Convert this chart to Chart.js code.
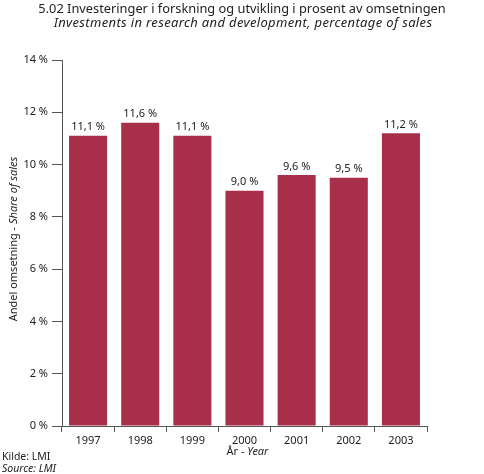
<!DOCTYPE html>
<html>
<head>
<meta charset="utf-8">
<script src="https://cdn.jsdelivr.net/npm/chart.js@4"></script>
<style>
  html, body { margin: 0; padding: 0; background: #fff; }
  #wrap { width: 484px; height: 474px; position: relative; }
</style>
</head>
<body>
<div id="wrap"><canvas id="rdChart" width="484" height="474"></canvas></div>
<script>
// data
const years = ["1997", "1998", "1999", "2000", "2001", "2002", "2003"];
const shareOfSales = [11.1, 11.6, 11.1, 9.0, 9.6, 9.5, 11.2];
const yTicks = [0, 2, 4, 6, 8, 10, 12, 14];

const FONT = "'Noto Sans', 'Open Sans', sans-serif";
const BAR_COLOR = "#a82f4a";
const TEXT = "#222";
const AXIS = "#555";

const fmt = (v) => v.toFixed(1).replace(".", ",") + " %";

// texts that mix upright and italic parts
function mixed(ctx, parts, x, y, align) {
  let total = 0;
  parts.forEach(p => { ctx.font = p.font; total += ctx.measureText(p.text).width; });
  let cx = align === "center" ? x - total / 2 : x;
  ctx.textAlign = "left";
  parts.forEach(p => {
    ctx.font = p.font;
    ctx.fillText(p.text, cx, y);
    cx += ctx.measureText(p.text).width;
  });
}

const textPlugin = {
  id: "texts",
  afterDraw(chart) {
    const ctx = chart.ctx;
    const area = chart.chartArea;
    ctx.save();
    ctx.fillStyle = TEXT;
    ctx.textBaseline = "middle";

    // heading
    ctx.textAlign = "center";
    ctx.font = "12.8px " + FONT;
    ctx.fillText("5.02 Investeringer i forskning og utvikling i prosent av omsetningen", 242, 9);
    ctx.font = "italic 13px " + FONT;
    ctx.letterSpacing = "0.35px";
    ctx.fillText("Investments in research and development, percentage of sales", 243, 23);
    ctx.letterSpacing = "0px";

    // x title
    mixed(ctx, [
      { text: "År - ", font: "11px " + FONT },
      { text: "Year", font: "italic 11px " + FONT }
    ], (area.left + area.right) / 2 + 3, 452, "center");

    // source
    ctx.textAlign = "left";
    ctx.font = "10.5px " + FONT;
    ctx.fillText("Kilde: LMI", 2, 457);
    ctx.font = "italic 10.5px " + FONT;
    ctx.fillText("Source: LMI", 2, 469);

    // y title, rotated
    ctx.save();
    ctx.translate(14, (area.top + area.bottom) / 2 - 4);
    ctx.rotate(-Math.PI / 2);
    mixed(ctx, [
      { text: "Andel omsetning - ", font: "11px " + FONT },
      { text: "Share of sales", font: "italic 11px " + FONT }
    ], 0, 0, "center");
    ctx.restore();

    ctx.restore();
  },
  afterDatasetsDraw(chart) {
    const ctx = chart.ctx;
    const meta = chart.getDatasetMeta(0);
    ctx.save();
    ctx.fillStyle = TEXT;
    ctx.font = "11px " + FONT;
    ctx.textAlign = "center";
    ctx.textBaseline = "bottom";
    meta.data.forEach((bar, i) => {
      ctx.fillText(fmt(shareOfSales[i]), bar.x, bar.y - 3);
    });
    ctx.restore();
  }
};

new Chart(document.getElementById("rdChart"), {
  type: "bar",
  data: {
    labels: years,
    datasets: [{
      data: shareOfSales,
      backgroundColor: BAR_COLOR,
      borderWidth: 0,
      barPercentage: 0.73,
      categoryPercentage: 1
    }]
  },
  options: {
    responsive: false,
    animation: false,
    layout: { padding: { left: 0, right: 57, top: 60, bottom: 0 } },
    plugins: {
      legend: { display: false },
      title: { display: false },
      tooltip: { enabled: false }
    },
    scales: {
      x: {
        offset: true,
        grid: {
          offset: true,
          drawOnChartArea: false,
          drawTicks: true,
          tickLength: 6,
          color: AXIS
        },
        border: { color: AXIS, width: 1 },
        ticks: { color: TEXT, font: { family: FONT, size: 11 }, padding: 2, maxRotation: 0 },
        afterFit: (s) => { s.height = 48; }
      },
      y: {
        min: 0,
        max: 14,
        afterBuildTicks: (s) => { s.ticks = yTicks.map(v => ({ value: v })); },
        grid: {
          drawOnChartArea: false,
          drawTicks: true,
          tickLength: 10,
          color: AXIS
        },
        border: { color: AXIS, width: 1 },
        ticks: {
          color: TEXT,
          font: { family: FONT, size: 11 },
          padding: 4,
          callback: (v) => v + " %"
        },
        afterFit: (s) => { s.width = 62; }
      }
    }
  },
  plugins: [textPlugin]
});
</script>
</body>
</html>
